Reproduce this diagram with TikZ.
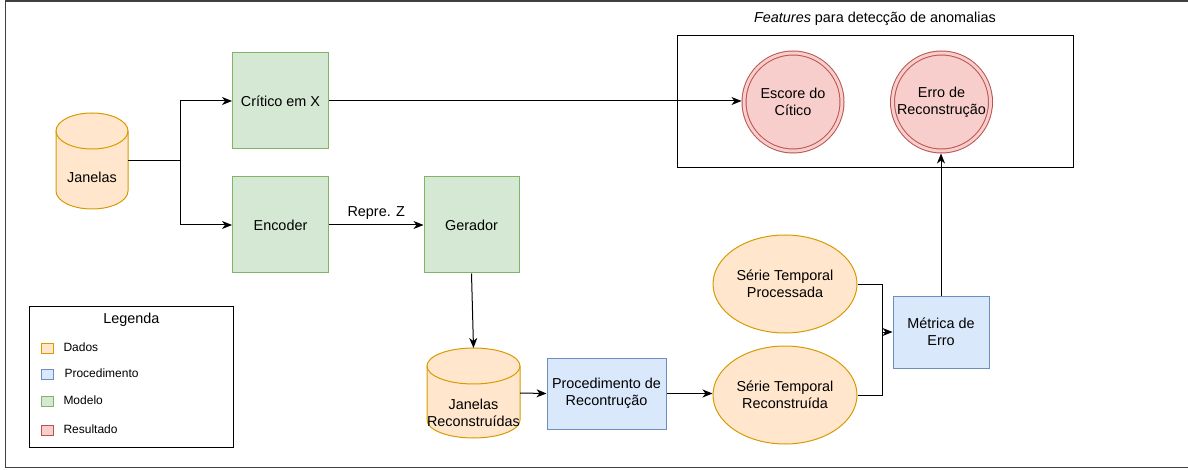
\documentclass[tikz,border=0pt]{standalone}
\usepackage{fontspec}
\setmainfont{Liberation Sans}
\usetikzlibrary{arrows.meta,shapes.geometric}

\definecolor{dfill}{HTML}{FFE6CC}\definecolor{dline}{HTML}{D79B00}
\definecolor{bfill}{HTML}{DAE8FC}\definecolor{bline}{HTML}{6C8EBF}
\definecolor{gfill}{HTML}{D5E8D4}\definecolor{gline}{HTML}{82B366}
\definecolor{rfill}{HTML}{F8CECC}\definecolor{rline}{HTML}{B85450}

% cylinder: centre x, top y, bottom y, half width, cap radius
\newcommand\datacyl[5]{%
  \filldraw[draw=dline, fill=dfill]
    (#1-#4,#2-#5) -- (#1-#4,#3+#5)
    arc[start angle=180, end angle=360, x radius=#4, y radius=#5]
    -- (#1+#4,#2-#5)
    arc[start angle=0, end angle=180, x radius=#4, y radius=#5] -- cycle;
  \draw[dline] (#1-#4,#2-#5)
    arc[start angle=180, end angle=360, x radius=#4, y radius=#5];
}

\begin{document}
\begin{tikzpicture}[x=1pt, y=1pt, line width=1pt,
  font=\fontsize{14.4}{17}\selectfont,
  box/.style={rectangle, align=center, inner sep=2pt},
  model/.style={box, draw=gline, fill=gfill, minimum width=96pt, minimum height=96pt},
  procbox/.style={box, draw=bline, fill=bfill},
  series/.style={ellipse, draw=dline, fill=dfill, minimum width=144pt,
    minimum height=98pt, inner sep=0pt, align=center},
  result/.style={circle, draw=rline, double=rfill, double distance=3pt,
    fill=rfill, minimum size=98pt, inner sep=0pt, outer sep=2.5pt, align=center},
  slot/.style={rectangle, inner sep=0pt, outer sep=0pt},
  arr/.style={-{Stealth[length=10pt, width=8pt, inset=3pt]}},
  legsq/.style={rectangle, minimum width=12pt, minimum height=10pt, inner sep=0pt},
  legtxt/.style={anchor=west, font=\fontsize{12}{14}\selectfont, inner sep=0pt}]

\useasboundingbox (0,0) rectangle (1188,-470);

% outer frame
\draw[line width=1.3pt, black!75] (1188,-1) -- (5.5,-1) -- (5.5,-467.5) -- (1188,-467.5);

% data windows
\datacyl{92}{-113}{-209}{36}{18}
\node[slot, minimum width=72pt, minimum height=96pt] (jan) at (92,-161) {};
\node at (92,-177) {Janelas};

\datacyl{473.5}{-348}{-438}{46.5}{18}
\node[slot, minimum width=93pt, minimum height=90pt] (jr) at (473.5,-393) {};
\node[align=center, inner sep=0pt] at (473.5,-412.5) {Janelas\\Reconstruídas};

% models
\node[model] (crit) at (280.5,-101) {Crítico em X};
\node[model] (enc) at (280.5,-225) {Encoder};
\node[model, minimum width=95pt] (ger) at (471.5,-225) {Gerador};

% procedures
\node[procbox, minimum width=119pt, minimum height=71pt] (proc) at (606.5,-393.5)
  {Procedimento de\\Recontrução};
\node[procbox, minimum width=96pt, minimum height=72pt] (metr) at (941,-332)
  {Métrica de\\Erro};

% series
\node[series] (sp) at (785,-284) {Série Temporal\\Processada};
\node[series] (sr) at (785,-395) {Série Temporal\\Reconstruída};

% anomaly features
\node[draw, rectangle, minimum width=396pt, minimum height=132pt] (feat) at (875,-102) {};
\node at (875,-19) {\textit{Features} para detecção de anomalias};
\node[result] (esc) at (793,-102) {Escore do\\Cítico};
\node[result] (err) at (941.5,-102) {Erro de\\Reconstrução};

% connectors
\coordinate (split) at (180,-161);
\draw (jan.east) -- (split);
\draw[arr] (split) |- (crit.west);
\draw[arr] (split) |- (enc.west);
\draw[arr] (crit.east) -- (crit.east -| esc.west);
\draw[arr] (enc.east) -- node[midway, above, yshift=2pt] {Repre. Z} (ger.west);
\draw[arr] (ger.south) -- (jr.north);
\draw[arr] (jr.east) -- (proc.west);
\draw[arr] (proc.east) -- (proc.east -| sr.west);
\coordinate (merge) at (882,-332);
\draw (sp.east) -| (merge);
\draw (sr.east) -| (merge);
\draw[arr] (merge) -- (metr.west);
\draw[arr] (metr.north) -- (metr.north |- err.south);

% legend
\node[draw, rectangle, minimum width=204pt, minimum height=141pt] (leg) at (131.3,-377.2) {};
\node at (131.3,-320) {Legenda};
\node[legsq, draw=dline, fill=dfill] (ld) at (47.3,-348) {};
\node[legtxt] at (63,-347) {Dados};
\node[legsq, draw=bline, fill=bfill] (lp) at (47.3,-374) {};
\node[legtxt] at (64,-373) {Procedimento};
\node[legsq, draw=gline, fill=gfill] (lm) at (47.3,-401) {};
\node[legtxt] at (63,-400) {Modelo};
\node[legsq, draw=rline, fill=rfill] (lr) at (47.3,-430) {};
\node[legtxt] at (63,-429) {Resultado};

\end{tikzpicture}
\end{document}
